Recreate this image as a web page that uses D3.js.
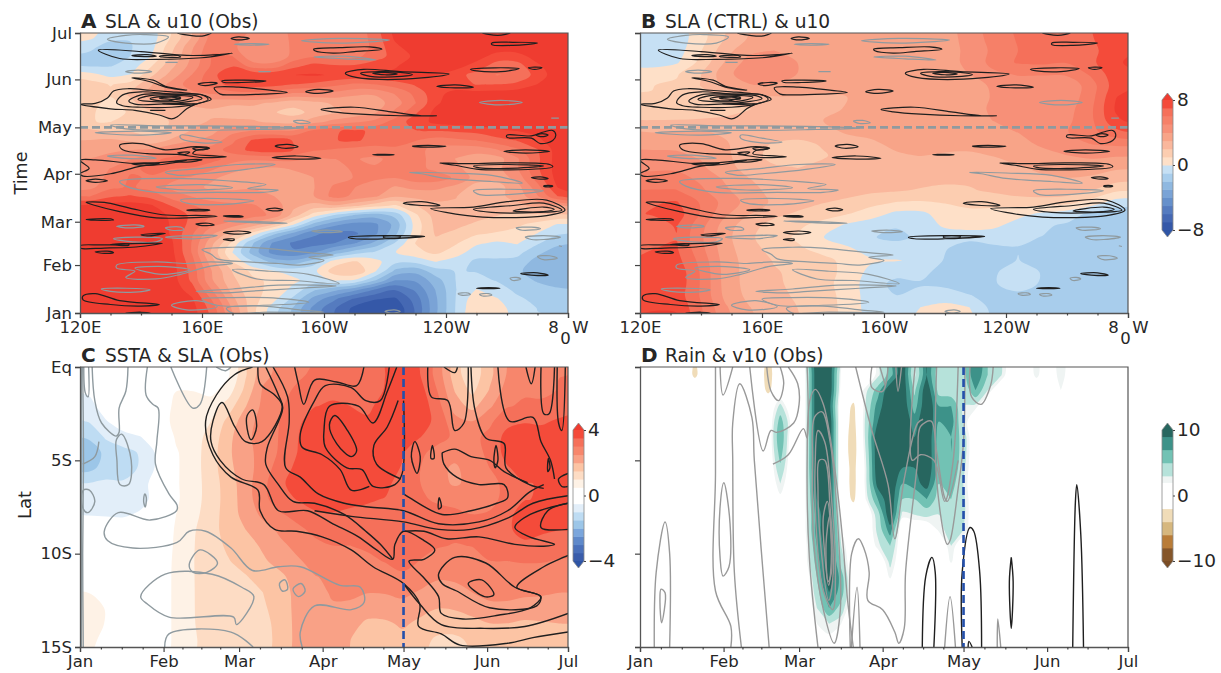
<!DOCTYPE html>
<html lang="en">
<head>
<meta charset="utf-8">
<title>SLA, SSTA, rain and wind</title>
<script src="https://d3js.org/d3.v7.min.js"></script>
<style>
body { margin: 0; background: #fff; }
text { font-family: "DejaVu Sans", sans-serif; fill: #262626; }
</style>
</head>
<body>
<div id="chart"></div>
<script>
// SLA obs (cm), rows from Jul down to Jan, columns from 120E to 80W
var slaObs = [
[1,-1,-1,-1,1,2,7,5,5,5,5,5,5,5,6,9,9,9,9,9,9,9,9,9],
[-1,-2,-1,-1,2,4,7,5,3,4,6,5,5,5,6,8,9,9,9,9,9,9,9,9],
[-1,-2,-1,-1,2,4,7,7,3,3,5,6,5,5,6,7,8,9,9,9,7,7,9,9],
[-2,-1,-1,1,3,4,6,8,4,4,7,8,7,7,8,8,8,9,9,8,6,6,8,9],
[1,-1,-1,2,3,5,7,9,9,9,9,9,9,9,9,9,9,8,7,6,5,5,7,9],
[2,1,1,3,5,6,7,8,8,8,7,7,6,5,6,6,7,8,7,6,7,7,8,9],
[2,1,3,4,5,5,5,6,6,6,5,5,5,4,3,5,6,8,9,9,9,9,9,9],
[2,-1,2,3,3,3,3,2,3,2,1,2,3,3,3,4,5,8,9,9,9,9,9,9],
[2,-1,1,2,2,2,3,2,2,2,1,2,2,3,3,5,7,9,9,9,9,9,9,9],
[0,1,2,1,2,3,3,3,3,2,1,3,4,4,5,7,8,9,9,9,9,9,9,9],
[3,1,2,1,2,3,4,5,5,5,5,8,8,9,7,7,7,7,7,7,8,8,8,9],
[3,4,3,1,3,4,3,6,8,9,7,7,7,8,7,7,6,5,6,6,7,7,8,9],
[3,4,4,4,5,6,5,7,9,9,8,6,6,5,5,6,5,4,4,4,5,6,6,9],
[4,4,5,6,7,8,8,5,4,5,5,4,5,5,4,5,7,4,4,3,2,4,7,9],
[5,5,6,7,6,6,5,4,4,3,4,5,4,6,5,5,5,4,4,3,4,5,7,9],
[4,5,7,6,5,5,4,3,3,4,3,4,4,5,6,5,7,7,6,4,3,4,7,9],
[4,6,6,5,4,4,3,4,4,3,4,3,6,5,4,3,4,4,4,1,2,3,5,9],
[5,7,7,7,5,5,4,4,5,4,3,4,8,5,6,3,4,3,3,2,3,3,5,9],
[9,9,9,9,7,6,6,5,5,5,3,2,4,3,2,0,2,3,3,3,3,3,3,3],
[9,9,9,9,8,7,6,7,6,7,3,1,-2,-3,-4,-3,1,3,3,2,2,1,2,2],
[9,9,9,9,8,7,5,5,4,3,1,-3,-4,-5,-5,-4,1,3,2,2,2,1,1,-1],
[9,9,9,9,8,6,4,2,1,-3,-4,-6,-6,-6,-5,-3,1,3,2,1,1,1,0,-1],
[9,9,9,9,9,6,3,1,-3,-5,-6,-6,-6,-5,-3,-1,2,2,1,0,-1,1,-1,-2],
[9,9,9,9,9,6,2,-1,-3,-6,-6,-5,-3,-1,-1,1,1,2,1,-1,-1,0,-2,-3],
[9,9,9,9,9,7,3,1,-1,-3,-3,-1,2,2,1,-1,-1,1,-1,-2,-1,-1,-3,-3],
[9,9,9,9,9,7,4,2,1,1,0,-1,3,4,1,-3,-4,-1,-1,-1,-1,-2,-3,-3],
[9,9,9,9,9,7,3,2,1,1,1,-1,1,1,-1,-5,-4,-3,0,-1,-1,-2,-2,-2],
[9,9,9,9,9,8,5,2,1,1,0,-2,-3,-4,-6,-7,-5,-3,-1,1,-1,-1,-2,-2],
[9,9,9,9,9,9,6,3,1,1,-1,-4,-5,-7,-7,-8,-6,-3,-1,2,0,-1,-1,-2],
[9,9,9,9,9,9,7,4,1,-1,-2,-5,-6,-8,-8,-9,-6,-3,-1,2,1,-1,-1,-1]
];

// SLA control run, same orientation
var slaCtrl = [
[-1,-1,.5,2,3,4,3.5,3,4,4,4,3.5,3.5,4,6,6,7,6,7,8],
[-1,-1,1,3,4,4,3.5,3,3.5,3.5,3.5,3.5,3.5,4,5,6,6,6,6,8],
[-1,-1,1,3,5,5,4,3.5,3.5,3,3.5,3.5,3.5,4,6,7,7,6,7,8.5],
[1,1,2,4,6,5,4,3.5,3,3,3,3,3.5,4,5,5,5,5,6,8],
[1,1,2,4,4,4,3.5,3,3,3,3,3,3,3.5,4,4,4,3,5,8],
[1,1,1.5,2,2.5,3,3,3,3,3,3,3,3,3.5,4,5,4,4,5,9],
[1,1,1,1.5,1.5,2,2,2.5,3,3,3.5,3,3,3.5,4,6,5,4,5.5,9],
[2,2,2,2,2,3,3,3,4,3.5,3.5,3.5,3.5,4,4,4,4.5,4.5,5,9],
[3,3,3.5,3,3,3,3,3,3,3,3,3,3.5,3.5,4,4,4.5,5,6,7],
[4,4,4,3,2.5,1.5,1,2,3,3,3,4,3,3,3,3.5,4.5,5,5,5],
[4,4,4,3.5,2,1.5,.5,1.5,2.5,2.5,3,3,3,3,3,3,3.5,4,4.5,4],
[5,5,4,3,2.5,2,2,2.5,3,3,3,2.5,2.5,2.5,3,3,3,3,3.5,3],
[5,6,5,4,3,2.5,2.5,2.5,2.5,2.5,2.5,2.5,2,2,2.5,2.5,3,3,3,2.5],
[6,6,5,4,3,2.5,2.5,2.5,2.5,2.5,2.5,2,2,2,2.5,3,3,3,2.5,1],
[7,8,6,5,4,3,2.5,2,2,1,1,1,1,1,1,1.5,2,2,1,-1],
[7,9,6,4,3,2,2,1.5,1.5,1,-1,-1,.5,1,.5,.5,-1,-1,-2,-2],
[6,8,5,3,2,1.5,1,1,-1,-1,-1,-1,1,1,1,-1,-1,-1,-2,-2],
[6,8,5,3,2,1,1,-1,-1,-1,-2,-1,-1,-1,-1,-1,-1,-1,-2,-2],
[7,8,5,3,2.5,1.5,1,1,.5,-1,-1,.5,-1,-2,-1,-1,-1,-1,-2,-2],
[7,8,6,3,2.5,2,1.5,1.5,1,.5,1,.5,-1,-3,-1,-1,-2,-1,-2,-1],
[7,9,6,3,2.5,2,2,1.5,1,-1,-1,-1,-1,-3,-1,.5,-1,-2,-2,-1],
[7,9,6,3,2.5,2,2,1,1,-1,-2,-1,-1,-2,-1,.5,-1,-2,-2,-2],
[7,8,6,3,2.5,2,2,1.5,1,-1,-1,-1,-1,-1,-2,-1,-2,-2,-2,-2],
[8,9,6,4,3,2.5,2,1.5,1,-1,-1,.5,1,1,-2,-2,-2,-2,-2,-2]
];

// SSTA, rows from Eq to 15S, columns Jan to Jul
var ssta = [
[0,0,0,0,0,.5,0,0,0,1.5,2.5,2.5,3,3,3,3,3,3.5,4,3.5,3,1.5,.5,2,2.5,3,3,3],
[-.5,0,.6,0,0,.7,.6,0,.5,1.5,3,3,3,3.5,3.5,3.5,3,3.5,4,4,3,2,.7,2,3,3,2.5,3],
[-1,0,.6,0,0,.7,1,.6,1.2,2,2.7,3,3,3.5,3.5,3.5,3.5,3.5,4,4,3.5,2,1.2,2.5,3,3,3,3.5],
[-1,-.6,0,0,0,1,1,.7,1.8,2.5,2.7,3,3.5,4,4,3.5,3.5,3.5,4,4,3.5,2.5,2.5,3,3.5,3.5,3.5,3.5],
[-1.5,-.7,-.7,-.6,0,.7,.7,1,2,2.5,2.7,3,3.5,4,4,4,3.5,3.5,4,3.5,3.5,3,3,3,4,4,3.5,4],
[-2.5,-1.2,-1.3,-1.3,-.7,.7,.7,1.2,2,2.5,2.5,3,3.5,4,4,3.5,3.5,4,3.5,3,2.5,2.5,2.7,3,4,4,3.5,4],
[-2,-1.2,-1.7,-1,-.6,.7,.7,1.2,2,2.3,2.5,3.5,3.5,4,4,3.5,3.5,4,3.5,3,2.5,2.2,2.7,3,3.5,4,3.5,3.5],
[-.7,-.7,-.7,-.6,-.2,.6,.7,1.2,1.7,2.2,3,3.5,4,4,4,4,3.5,3.5,3.5,3,2.5,2.2,2.5,2.7,3,3.5,3.5,3.5],
[-.8,-.7,-1.5,-.8,-.6,.6,.7,1.2,1.7,2.2,3,3.5,3.5,4,3.5,3.5,3.5,3.5,3.5,3,2.7,2.7,2.7,2.7,3,3.5,3.5,3.5],
[-.6,-.7,-.6,-.5,0,.6,.8,1.2,1.8,2.2,2.7,3,3,3.5,3.5,3.5,3.5,3.5,3.5,3.5,3.5,3.5,3,3,3.5,4,3.5,4],
[0,0,0,0,0,.6,1,1.3,1.8,2,2.2,2.5,3,3,3.5,3,3.5,3,3.5,3.5,3.5,3,3,3,3.5,4,3.5,3.5],
[0,.5,0,0,0,.6,1,1.3,1.6,1.7,2,2.5,2.5,3,3,3,3,3,3.5,3,3,3,3,3.5,3,3.5,3.5,3],
[0,.5,0,0,0,.7,1,1.3,1.5,1.7,2,2.2,2.5,2.7,2.7,2.7,3,3,3.5,3,2.7,2.7,2.7,3,3,3,3,3],
[0,.5,0,0,0,.7,1,1.3,1.2,1.5,1.7,1.7,2.2,2.5,2.5,2.7,2.7,2.7,3,2.7,2.5,2.5,2.7,3,2.7,2.7,2.7,2.7],
[.6,.6,0,0,0,.7,1,1.3,1.2,1,1.5,1.7,2.2,2.5,2.5,2.7,2.5,2.5,2.7,2.5,2.2,2.5,2.5,2.7,2.7,2.7,2.7,2.5],
[.7,.6,0,0,0,.7,1,1.3,1.2,1,1.5,1.7,2.2,2.5,2.5,2.5,2.2,2.2,2.5,2,2,2,2.2,2.5,2.5,2.2,2.2,2.2],
[.7,.6,0,0,0,.7,1,1.3,1.2,1,1.2,1.7,2.2,2.5,2.5,2.2,1.7,1.8,2.2,2,1.6,1.6,1.8,2,2,1.8,2,2],
[.5,.6,0,0,0,.7,1,1.2,1,.9,1.2,1.7,2.2,2.5,2.3,2,1.5,1.6,2,1.5,1.3,1.3,1.5,1.7,1.6,1.6,1.6,1.8]
];

// rain anomaly read column by column: the 40 time columns that are not dry,
// each with values for 18 rows from Eq to 15S; every other column is zero
var rainCols = 40, rainRows = 18;
var rainColumnIndex = [4,10,11,12,13,14,15,16,17,18,19,20,21,22,23,24,25,26,27,28,29,32,34];
var rainColumns = [
[-2.5,0,0,0,0,0,0,0,0,0,0,0,0,0,0,0,0,0],
[-3,-2.5,0,0,0,0,0,0,0,0,0,0,0,0,0,0,0,0],
[0,0,3.5,6,7,6,4.5,3,1.5,0,0,0,0,0,0,0,0,0],
[0,0,0,1,0,0,0,0,0,0,0,0,0,0,0,0,0,0],
[1.5,1.5,1.5,1.5,1.5,1.5,1.5,1.5,1.5,1.5,1.5,1,1,0,0,0,0,0],
[11,11,11,11,11,11,11,10,9,8,8,7,6,5,4,3,2,1],
[11,11,10,11,11,11,11,11,11,11,11,11,11,11,9,7,3,1.5],
[1.5,1,0,0,0,0,0,0,0,1,2,3,4,6,6,4,2,1],
[0,0,-2.5,-3,-3.5,-3.5,-3,-3,-2.5,0,0,0,0,0,0,0,0,0],
[0,2.5,3,3.5,3.5,3,2.5,2.5,2,0,0,0,0,0,0,0,0,0],
[2.5,6,8,9,11,11,11,10,7,4,3.5,2.5,0,0,0,0,0,0],
[6,11,11,11,11,11,11,11,11,11,8,5,3.5,2.2,0,0,0,0],
[11,11,11,11,11,11,9,7,5,2.5,0,0,0,0,0,0,0,0],
[2.5,4.5,6,8,9,9,9,8,5,3,0,0,0,0,0,0,0,0],
[9,11,11,11,11,11,11,10,7,3.5,0,0,0,0,0,0,0,0],
[3.5,4,7,7,6,6,6,5,4,3,2.2,0,0,0,0,0,0,0],
[4,3.5,7,8,7,7,7,6,5,4,4,3,2.2,0,0,0,0,0],
[4,3,3,3,4,4,3.5,3,3.5,3.5,3,0,0,0,0,0,0,0],
[9,7,2.5,0,0,0,0,0,0,0,0,0,0,0,0,0,0,0],
[5,3,0,0,0,0,0,0,0,0,0,0,0,0,0,0,0,0],
[3.5,0,0,0,0,0,0,0,0,0,0,0,0,0,0,0,0,0],
[2.5,0,0,0,0,0,0,0,0,0,0,0,0,0,0,0,0,0],
[3,2,0,0,0,0,0,0,0,0,0,0,0,0,0,0,0,0]
];
var rain = d3.range(rainRows).map(function(r) {
    return d3.range(rainCols).map(function(c) {
        var k = rainColumnIndex.indexOf(c);
        return k < 0 ? 0 : rainColumns[k][r];
    });
});

// u10 contours as [lon, day] loops, positive and negative
var u10Pos = [
[[152,181],[156,179.5],[160,179],[163,181]],
[[169.5,177.5],[172,178.5],[175.5,177.5],[172,176.5]],
[[126,170],[140,169],[155,166.5],[165,167],[170,168],[160,165],[145,164],[133,164.5]],
[[137,166.5],[142,167],[145,166],[141,165.7]],
[[146,166],[152,166.5],[153,165.5],[147,165.5]],
[[196.6,170.5],[205,171.5],[215,172],[219,170.5],[210,169],[203,168],[197,169.5]],
[[255,174.5],[262,175],[270,174.5],[262,173],[255,173.5]],
[[252,181],[257,179.5],[261,181]],
[[248,157.5],[256,158.5],[264,158],[258,156],[250,156.5]],
[[267,158.5],[269,159],[271.5,158.5],[269,157.5]],
[[207,155],[213,157.5],[225,156],[241,154.5],[232,152],[218,151],[209,153]],
[[212,155],[218,156],[225,155.5],[229,154],[220,152.5],[214,153.5]],
[[216,155],[220,155.5],[224,154.5],[220,154]],
[[166.5,150],[173,150.5],[181,150],[173,149],[167,149.2]],
[[158.7,148],[162,149],[165,148.5],[161,147]],
[[164,145.5],[172,146],[180,144.5],[188,142.5],[180,141.5],[170,141],[166,141.5]],
[[194,143],[198,144.5],[203,143.5],[198,142]],
[[237,146.5],[243,147.5],[249,146],[243,145.5]],
[[137,152],[144,150.5],[148,146.5],[155,144],[148,146],[143,149.5]],
[[120,135],[125,135.5],[129,139],[131,143.5],[136,145],[143,144],[150,143],[156,142],[161,140.5],[163,138],[158,135],[155,132],[152,127],[150,125.5],[146,128],[138,131],[130,132]],
[[132,136],[134,141],[140,143],[150,141.5],[160,141],[162,138],[158,135],[150,133],[140,133],[134,134]],
[[136,137],[140,141],[148,141.5],[158,140.5],[160,138.5],[155,136.5],[146,135],[138,135]],
[[139,138],[143,140.5],[150,140.8],[157,139.5],[154,137.5],[146,136.5]],
[[143,138.5],[147,140],[153,139.5],[150,137.5],[145,137.5]],
[[146,139],[150,139.5],[153,138.5],[149,138.2]],
[[147,135.3],[158,135.3],[152,134.8]],
[[143,131],[148,131]],
[[199,131.5],[210,133],[222,130],[232,127.5],[237,127.5],[225,127.5],[212,128.5],[203,130]],
[[260,115],[268,114.5],[272,117],[275,118],[276,115],[275,111.5],[271,109.5],[268,113],[260,113.5]],
[[269.5,115],[271.5,116],[273.5,115],[271.5,114]],
[[133,108.5],[140,109.5],[148,105.5],[158,107.5],[162.5,106.5],[158,105],[157,103],[165,101.5],[168,101],[160,100.5],[152,102.5],[142,103],[134,105.5]],
[[152,103.5],[156,104],[154.5,102.5]],
[[157,106.5],[160,107],[162,106],[158,105.5]],
[[184,108],[188,109],[191.5,107.5],[187,106.5]],
[[229,107.8],[234,108.3],[240,107.8],[234,107.2]],
[[183,100.5],[191,101.5],[199,100],[191,99.5]],
[[216,102.3],[220,102.6],[223,102.3],[220,102]],
[[259,104.5],[266,105.5],[274,104.5],[266,103.3]],
[[238,97],[246,96.5],[260,97],[274,96],[275,94.5],[260,92.5],[250,93],[243,95.5]],
[[249,95],[258,96],[272,95],[260,93.5],[251,93.8]],
[[120,98.7],[125,99],[140,96.5],[155,98.7],[147,96],[140,95],[130,90],[121,88.5],[120,90],[123,93.5]],
[[137,96.5],[141,97],[146,96.5],[141,95.5]],
[[151,98],[155,99],[160,99],[155,97.5]],
[[122,85.5],[125,86.5],[129,85.5],[125,84.5]],
[[268,87.5],[271,88],[273.5,87],[271,86.5]],
[[272,82],[273.5,82.5],[275,82],[273.5,81.5]],
[[122,71.5],[128,71.5],[136,68],[147,63.5],[160,63],[165,62.5],[155,61.5],[145,61.5],[133,65.5],[125,69.5]],
[[155,66.5],[159,67],[162.6,66.5],[159,66]],
[[167,62.7],[172,62.9],[173.5,62.3],[169,62.2]],
[[181,67],[184,67.8],[186.5,66.7],[184,66]],
[[158,57.5],[162,58],[164,57],[160,56.5]],
[[122,60.5],[130,60.8],[131,60],[125,60]],
[[140,50.5],[146,51.5],[148,51.5],[142,49.8]],
[[167,52],[172,53],[176,52],[172,51]],
[[167,47.5],[170.5,47.8],[170.5,47]],
[[208,49],[220,50],[233,49.5],[220,48],[210,48]],
[[219.5,49.5],[225,49.5],[225,48.9],[219.5,48.9]],
[[226,71],[232,72],[238,69.5],[232,69.5]],
[[235,67.5],[249,68.5],[260,72],[273,73],[279,66.5],[273,63],[252,62],[240,65]],
[[249,67],[262,69.5],[272,71],[278,66.5],[270,65],[255,65]],
[[262,66],[272,68.5],[275.5,67],[272,65.5],[264,65.5]],
[[120,43.5],[128,44],[140,45],[147,45],[137,42.5],[128,42],[120,42]],
[[125,39.5],[129,40],[131,39],[128,38.5]],
[[130,44.2],[136,44.5],[136,43.8]],
[[264.5,25.5],[270,26],[273.5,24.5],[268,24.5]],
[[250,16],[254,16.4],[257.7,16],[254,15.7]],
[[121,11],[125,12.5],[133,8],[146,5.5],[140,4.5],[130,5.5],[121,8.5]],
[[135,0],[140,.5],[143,0]]
];
var u10Neg = [
[[129,177],[135,179.5],[141,180],[149,178.5],[145,174.5],[135,174.5]],
[[170.6,173.7],[176,174.2],[182,173.7],[176,173.2]],
[[192.6,176],[205,177.5],[221.5,176.5],[205,174.5]],
[[196.6,165.5],[207,166],[217,163.5],[207,164.3]],
[[148,162],[152,162]],
[[135,156],[139,157],[143.5,156],[139,155]],
[[178.5,156],[182.5,156]],
[[251,136],[258,137.5],[265,136],[258,134.5]],
[[274.5,126],[277,126]],
[[190,124],[193,124.5],[195.5,123],[192,122.5]],
[[130,121.5],[145,121],[160,121],[180,120.5],[192,119.5],[175,118.5],[155,118],[135,119]],
[[125,116.5],[140,117.5],[150,116.5],[140,115]],
[[153,115],[160,113],[166.6,110.5],[160,110],[153,113]],
[[129,101.5],[137,102],[145,100],[135,100]],
[[148,91],[160,93.5],[172,96],[184,96],[175,93],[160,90],[152,89]],
[[133,85],[150,87],[168,85.5],[181,83],[175,80.5],[185,79.5],[180,78],[165,78],[145,78],[135,82]],
[[145,81.5],[160,83],[170,81],[155,79.5]],
[[153,73],[165,74],[177,72.5],[165,70],[155,71]],
[[167,59.5],[180,59],[188,58],[178,58.3]],
[[132,56],[138,57],[141,56],[136,55]],
[[148,55],[153,55.5],[154,54],[150,53.5]],
[[196,53],[202,53.5],[206,52.5],[200,52]],
[[131,48],[138,49],[147,48],[145,46],[135,46.5]],
[[148,49],[155,50],[165,50],[158,48]],
[[160,41],[170,42.5],[180,42],[195,39],[203,37.5],[195,36],[200,34],[192,31],[185,32],[175,33],[165,35],[163,38]],
[[132,31],[145,33],[155,32],[163,33],[170,32],[162,30],[153,25],[145,22],[135,23],[138,27],[132,29]],
[[138,29],[148,30],[156,28],[147,25]],
[[127,15.5],[135,16],[143,15],[138,13.5],[130,14]],
[[158,14],[170,15.5],[185,18],[204,17.5],[192,16],[175,14],[168,13]],
[[170,28],[182,27],[195,25],[205,19],[190,21],[178,22]],
[[160,9],[170,10],[185,9.5],[195,7],[180,5],[165,5]],
[[168,3],[180,4.5],[192,2],[200,.5],[180,.5],[170,0]],
[[150,5],[158,8],[165,4],[155,2]],
[[228,91],[240,90.5],[255,89],[265,84],[255,85],[240,87],[232,90]],
[[249,79],[260,80],[272,79],[260,76.5],[251,76.5]],
[[263,55],[268,55.5],[271,54.5],[265,53.5]],
[[266,49],[272,50],[277.5,49],[272,47.5],[268,47.5]],
[[277,43.5],[278,43]],
[[270,36.5],[274,37],[276.5,35.5],[272,34.5]],
[[261,22.5],[263,23],[264.5,22],[262,21]],
[[244,12.5],[247,13],[248,12],[245,11.5]],
[[251,12],[254,12.5],[255,11.5],[252,11]],
[[220,1],[223,2],[225,1],[222,0]]
];

// SLA contours over SSTA as [day, lat south]
var slaPos = [
[[64,0],[57.4,.4],[50.6,1.5],[46.6,2.9],[49.3,4.7],[56,5.9],[66,6.6],[66.8,7.7],[72.2,8.7],[80.3,8.8],[89.8,9.1],[100.6,9.8],[108.7,10.7],[120,11.6],[126,12.7],[125.6,13.9],[134,14.3],[141,14.9],[158.6,14.8],[168,14.5],[181,14.2]],
[[66,0],[66.8,.9],[72.2,1.5],[75,2.1],[67.5,4],[61.4,4],[57.4,3.2],[52.7,1.9],[49.3,2.9],[48.6,4],[52,5],[60,6],[68.2,6.3],[73.6,7.7],[84.4,7.7],[93.8,8.4],[103.3,9.1],[110,9.8],[116,10.3],[116.8,9.5],[120,8.8],[127.6,9.3],[131.6,9.8],[127.6,10.3],[122,10.4],[127.6,11.3],[133,12.3],[134,13.2],[142,13.5],[155,13.3],[167,12.9],[171,12.3],[162,11.8],[172,10.7],[181,10.1]],
[[120,11.6],[126,12.7],[134,13.8],[150,14],[165,13.9],[181,13.2]],
[[68.9,0],[73.6,1.5],[75.2,2.2],[69.5,4.3],[68.9,5.2],[73.6,6.3],[79,7.2],[87,7.3],[98,7.9],[106,8.8],[111.4,9.5],[116,10.3]],
[[71.6,0],[77,1.6],[77.6,2.9],[76.3,5.4],[81.7,5.9],[88.4,6.8],[98,7.3],[107,7.5],[120,7.7],[133,8.4],[148,8.3],[158.6,7.7],[166.7,6.7],[172,6.3]],
[[87,7.7],[100.6,8],[120,8.3],[133,8.7],[145,8.7],[158.6,8.1],[168,7.3],[181,6.9]],
[[120,8.8],[127.6,8.8],[136,9.2],[148,9.1],[161.3,9.5],[172,9.6],[176,9.5],[166.7,9.1],[161.3,8.6],[167,7.9],[181,7.3]],
[[79.6,0],[81,.9],[83,2],[87,.7],[95.2,.8],[102.6,1],[105.3,0]],
[[117.5,0],[114,1.3],[108.7,3],[103.3,2.1],[92.5,2.1],[90.5,3.4],[91,4.3],[99,5.4],[104.6,5.5],[108.7,6.4],[116.8,6.3],[119.5,5.7],[120,1.8]],
[[114.7,0],[111.4,1.8],[106,1.8],[100.6,1.1],[91,1],[87,1.8],[81.7,3.6],[82.4,4.3],[89.8,4.7],[96.5,5.5],[100.6,6.6],[107.3,6.4]],
[[119,6],[110,5.2],[109,4.2],[114,3.2],[118,1.8]],
[[134.3,4.6],[135,5.2],[139.7,5.9],[148,6.3],[157.3,6.3],[158.6,7],[154.6,7.3],[145,7.7],[134.3,7.9],[122.2,7],[120,6.8]],
[[134.3,4.6],[139,4.4],[145,4.8],[152,5],[157.3,5.6],[166,6.2]],
[[129,0],[130.3,1.6],[136.4,1.8],[139,3.4],[142.4,3],[144,0]],
[[145,0],[146.5,2.3],[150.5,3.8],[157.3,4.1],[158,5.4],[166.7,6.3],[172,6.5]],
[[155,0],[159.3,2.9],[168,2.7],[171,4],[174.5,5],[176,6]],
[[171,0],[172,2.5],[174,2.5],[176,0]],
[[165.4,0],[167.4,.9],[168.8,0]],
[[135,0],[139,.3],[140,0]],
[[177,0],[177.5,3],[178.7,3.4],[180,0]],
[[181,5.7],[177.5,6],[178.7,6.4],[181,6.4]],
[[181,7.3],[173.5,7.7],[171,8.6],[181,8.7]]
];
var slaLoops = [
[[62,2.6],[64,2.3],[65.5,3.2],[63.5,3.9],[62,3.3]],
[[92.5,3.1],[94.5,2.6],[99.2,3.4],[102.6,4.5],[100.6,4.8],[95.2,4.1]],
[[124.2,4],[126.2,4.8],[125,5.7],[122.9,4.8]],
[[130.7,4.2],[131.3,4.9],[130.2,4.9]],
[[154.3,4.2],[155,5],[154,5.4],[153.5,5]],
[[173.7,4.9],[174.3,5.4],[173.5,5.6]],
[[133.2,7],[134,7.5],[133,7.6]],
[[133,11.1],[139,10.2],[150.5,10.5],[161.3,11.8],[170.8,12.3],[169.4,12.8],[151.9,12.9],[139.7,12],[134.3,11.6]],
[[144,11.6],[149,11.4],[153.5,12.2],[150,12.3]]
];
var sstaNeg = [
[[.5,0],[.5,15]],
[[1,0],[1.3,5],[1,10],[1.2,15]],
[[1.4,0],[2,1.4],[3,1.6],[3.2,0]],
[[4.5,0],[5.5,1.8],[8,3],[13.5,3.7],[14.5,3.5],[14.5,2.2],[17,1.3],[17.8,0]],
[[25,0],[24.5,1.5],[27,2],[29,2.2],[28.5,4],[28,5.2],[33,6.8],[36,7.4],[35.8,7.7],[26,8.2],[14.2,7.8],[9,8.8],[10.2,9.3],[19.6,9.7],[36,9.4],[40.5,8.8],[46.6,8.8],[56,9.7],[64,10.9],[73.6,10.7],[81.7,10.7],[96.5,11.7],[104,11.8],[105.4,12.6],[100.6,13],[87,12.8],[81.7,14.2],[82.4,15]],
[[33.7,0],[41.8,2.2],[44.5,2],[47,0]],
[[1,5.2],[5.5,4.8],[7,4]],
[[31.4,15],[33,14.3],[56,14.2],[64.2,15]],
[[50.5,0],[54,.2],[56,0]]
];
var sstaLoops = [
[[13.5,3.9],[15.5,3.6],[19,5],[18,6.3],[14.8,6.3],[13.7,5]],
[[1.2,6.6],[3.5,6.6],[5.5,7.2],[3,7.8],[1.2,7.6]],
[[24,6.8],[24.6,7],[24.2,7.5],[23.6,7.2]],
[[40.5,10.6],[44.5,9.8],[51,10.5],[47,11],[42,11]],
[[22.5,12.3],[31.6,11.1],[49,11.1],[60,11.8],[64.5,12.3],[58,13.8],[57,13.4],[33,13.4],[25,12.7]],
[[74,11.6],[76,11.4],[77,11.9],[75,12]],
[[79,11.9],[82,11.6],[83.5,12],[81,12.3]]
];

// v10 contours over rain as [day, lat south]
var v10Neg = [
[[5.3,15],[6,11],[9.3,8.3],[11,10],[11,15]],
[[28,0],[28,5.7],[28,12],[33.7,13.9],[33.7,15]],
[[29.7,0],[30.8,1.5],[34.4,0]],
[[37.6,15],[35,11],[34.4,5],[34.4,3],[37,.9],[41.5,2.7],[42.4,5],[47.9,15]],
[[40.7,0],[45.7,4.5],[48.6,3.4],[50.7,3.5],[57,3],[59,2],[58.5,.9],[55,0]],
[[47,0],[48.6,1.3],[51.4,1.8],[53.3,.9],[52,0]],
[[49.3,5.2],[55,4.7],[60.6,3.3],[62,3.8],[62,0]],
[[66,15],[62.8,10.2],[62,5],[63,1.8],[65,1.2],[68,2],[72,5.2],[75,9],[77,12.5],[79.1,15]],
[[78,15],[78.5,10],[81,9.2],[83,9.7],[85,11],[84.5,12.5],[90,13],[94.5,14.2],[96,14.8],[98,14],[98.5,11],[103,5],[104,3.2],[108,2.9],[110,4.5],[113,7],[114,7.2],[118,5]],
[[80,0],[86,3.4],[92,6.3],[94.5,9.2],[98,6],[103,3],[105,2.8]],
[[86,0],[86,1.1],[90,1.3],[92,0]],
[[89,0],[91,1]],
[[94.9,0],[95.7,1.3],[97,0]],
[[102,0],[101,5],[104,4.7],[109,5],[113,7.2],[116,5.2],[118,0]],
[[110,0],[110,6],[114,9.5],[115,9.3],[118,6.5],[120,4],[120.5,0]],
[[78.4,15],[80.5,11.8],[81.6,15]],
[[113,15],[115,12.3],[117,15]],
[[132.5,15],[132.7,13.5],[133.8,15]],
[[122.4,0],[123,1.6],[126.5,2],[130,1],[131,0]]
];
var v10NegLoops = [
[[7.8,11.9],[9.3,12.1],[8,13.7],[7.4,12.6]],
[[31.1,6.2],[33.4,8.4],[33,10.7],[30.8,11.2],[29.7,10.2],[29.7,7.5]],
[[64,5],[64.5,9.5],[68,13],[72,14.8],[74.3,13],[73.6,9],[70.5,4],[67.5,2.4],[64.7,2.7]],
[[65,5],[65.5,9],[68,12],[71.5,13],[72.5,11],[71,7],[68.5,4],[66,3.4]],
[[66,6.5],[67,9.5],[70,12.5],[71.7,11],[70.5,7.5],[68.5,5],[66.5,5]],
[[68,8],[68.5,10],[70,11.7],[71,10],[69.5,7.2]],
[[69,9.5],[69.8,11.5],[71,11],[70.3,8]]
];
var v10Pos = [
[[104.7,15],[106,11.2],[108.3,10.2],[109.5,11],[109,15]],
[[119.5,15],[119.5,11],[122.4,8.6],[123.8,8.8],[126,11],[126.7,15]],
[[137.7,10.2],[137,11.5],[137.7,14],[138.4,11.5],[137.7,10.2]],
[[160.5,15],[161.5,7.2],[162,6.3],[163.5,9],[164.5,15]],
[[121.7,15],[122,14.7],[123.2,15]]
];

// contour levels and their colours (colour i is the band above level i, colorsX[0] is below the lowest)
var slaLevels = [-8,-7,-6,-5,-4,-3,-2,-1,0,1,2,3,4,5,6,7,8];
var slaColors = ["#2f55a5","#3558a8","#4568b3","#557bbf","#6690cb","#7aa3d6","#8fb8e0","#a8cdec","#c6e0f4","#fee0c8","#fccdb0","#fab79c","#f8a488","#f79078","#f68068","#f5705a","#f44b3a","#ef3c30"];
var sstaLevels = [-4,-3.5,-3,-2.5,-2,-1.5,-1,-.5,.5,1,1.5,2,2.5,3,3.5,4];
var sstaColors = ["#2f55a5","#3a5dab","#4a70ba","#5f89ca","#7ba6dc","#9cc6e8","#bedcf3","#e2eef9","#ffffff","#fef2e6","#fddcc4","#fcc4a4","#f9a186","#f7866c","#f5705a","#f44b3a","#ef3c30"];
var rainLevels = [-10,-8,-6,-4,-2,2,3,5,7,9];
var rainColors = ["#7a4d25","#85562a","#b97c38","#d6b77e","#f0dcb8","#ffffff","#eff4f3","#b6e2da","#72c2b4","#3d9289","#27665f"];

var timeTicks = [0,31,59,90,120,151,181];
var timeLabels = ["Jan","Feb","Mar","Apr","May","Jun","Jul"];
var lonTicks = [120,160,200,240,280];
var lonLabels = ["120E","160E","160W","120W","80W"];
var latTicks = [0,5,10,15];
var latLabels = ["Eq","5S","10S","15S"];
var mayDay = 120;

var black = "#1f1f1f", grey = "#8f9a9f";

//layout
var w = 1221, h = 673;
var svg = d3.select("#chart").append("svg").attr("width", w).attr("height", h).style("display", "block");
var defs = svg.append("defs");

var top1 = 33, bot1 = 313, top2 = 367, bot2 = 647;
var xLeft = [80, 568], xRight = [640, 1128];

var smooth = d3.line().curve(d3.curveCatmullRomClosed.alpha(0.5));
var open = d3.line().curve(d3.curveCatmullRom.alpha(0.5));

function minorTicks(list, n) {
    var out = [];
    for (var i = 0; i < list.length - 1; i++) {
        for (var k = 1; k < n; k++) out.push(list[i] + (list[i+1] - list[i]) * k / n);
    }
    return out;
}

function clipFor(id, x, y) {
    defs.append("clipPath").attr("id", id).append("rect")
        .attr("x", x[0]).attr("y", y[0])
        .attr("width", x[1] - x[0]).attr("height", y[1] - y[0]);
}

// filled contours of one grid, painted from the lowest level up.
// the grid is padded by its own edge so contour corners fall outside the clip
function drawField(g, field, x, y, levels, colors, blurR) {
    var rows = field.length, cols = field[0].length;
    var gx = d3.scaleLinear().domain([0, cols]).range(x.range());
    var gy = d3.scaleLinear().domain([0, rows]).range(y.range());
    g.append("rect").attr("x", gx(0)).attr("y", gy(0))
        .attr("width", gx(cols) - gx(0)).attr("height", gy(rows) - gy(0))
        .attr("fill", colors[0]);
    var vals = [];
    for (var r = -1; r <= rows; r++) {
        for (var c = -1; c <= cols; c++) {
            vals.push(field[Math.max(0, Math.min(rows - 1, r))][Math.max(0, Math.min(cols - 1, c))]);
        }
    }
    if (blurR > 0) d3.blur2({data: vals, width: cols + 2, height: rows + 2}, blurR);
    var bands = d3.contours().size([cols + 2, rows + 2]).thresholds(levels)(vals);
    g.selectAll("path.band").data(bands).enter().append("path")
        .attr("class", "band")
        .attr("fill", function(d, i) { return colors[i + 1]; })
        .attr("fill-rule", "evenodd")
        .attr("d", function(d) {
            var s = "";
            d.coordinates.forEach(function(poly) {
                poly.forEach(function(ring) {
                    var pts = ring.slice(0, -1).map(function(p) { return [gx(p[0] - 1), gy(p[1] - 1)]; });
                    s += smooth(pts);
                });
            });
            return s;
        });
}

function drawLines(g, lines, x, y, color, closed, width) {
    g.append("g").selectAll("path").data(lines).enter().append("path")
        .attr("fill", "none").attr("stroke", color).attr("stroke-width", width)
        .attr("d", function(d) {
            var pts = d.map(function(p) { return [x(p[0]), y(p[1])]; });
            return closed ? smooth(pts) : open(pts);
        });
}

function styleAxis(a) {
    a.selectAll(".domain").attr("stroke", "#555").attr("stroke-width", 1.3);
    a.selectAll(".tick line").attr("stroke", "#444").attr("stroke-width", 1.2);
    a.selectAll("text").style("font-size", "16.5px").style("fill", "#262626");
}

function panelTitle(x0, y0, letter, txt) {
    svg.append("text").attr("x", x0 + 1).attr("y", y0 - 5).attr("font-weight", "bold").style("font-size", "20px").text(letter);
    svg.append("text").attr("x", x0 + 25).attr("y", y0 - 5).style("font-size", "18.6px").text(txt);
}

// one lon / time panel
function lonPanel(id, xr, field, letter, txt, showY) {
    var x = d3.scaleLinear().domain([120, 280]).range(xr);
    var y = d3.scaleLinear().domain([0, 181]).range([bot1, top1]);
    clipFor(id, xr, [top1, bot1]);
    var g = svg.append("g").attr("clip-path", "url(#" + id + ")");
    drawField(g, field, x, d3.scaleLinear().domain([181, 0]).range([top1, bot1]), slaLevels, slaColors, .12);
    drawLines(g, u10Neg, x, y, grey, true, 1.2);
    drawLines(g, u10Pos, x, y, black, true, 1.2);
    g.append("line").attr("x1", x(120)).attr("x2", x(280)).attr("y1", y(mayDay)).attr("y2", y(mayDay))
        .attr("stroke", grey).attr("stroke-width", 2.8).attr("stroke-dasharray", "8,4");

    var ax = svg.append("g").attr("transform", "translate(0," + bot1 + ")")
        .call(d3.axisBottom(x).tickValues(lonTicks).tickSize(5).tickPadding(3)
            .tickFormat(function(d, i) { return lonLabels[i]; }));
    styleAxis(ax);
    // the last label is broken over the baseline in the original figure
    var last = ax.selectAll("text").filter(function(d) { return d === 280; }).text("");
    last.append("tspan").text("8");
    last.append("tspan").attr("dx", 1.5).attr("dy", 11).text("0");
    last.append("tspan").attr("dx", 1.5).attr("dy", -11).text("W");
    svg.append("g").attr("transform", "translate(0," + bot1 + ")")
        .call(d3.axisBottom(x).tickValues(minorTicks(lonTicks, 4)).tickSize(2.5).tickFormat(""))
        .call(styleAxis).select(".domain").remove();

    var ay = svg.append("g").attr("transform", "translate(" + xr[0] + ",0)")
        .call(d3.axisLeft(y).tickValues(timeTicks).tickSize(5).tickPadding(3)
            .tickFormat(function(d, i) { return showY ? timeLabels[i] : ""; }));
    styleAxis(ay);
    // thin frame on the other sides
    svg.append("path").attr("fill", "none").attr("stroke", "#555").attr("stroke-width", 1.2)
        .attr("d", "M" + xr[0] + "," + top1 + "H" + xr[1] + "V" + bot1);
    panelTitle(xr[0], top1, letter, txt);
}

// one time / lat panel
function latPanel(id, xr, field, levels, colors, blurR, letter, txt, showY, draw) {
    var x = d3.scaleLinear().domain([0, 181]).range(xr);
    var y = d3.scaleLinear().domain([0, 15]).range([top2, bot2]);
    clipFor(id, xr, [top2, bot2]);
    var g = svg.append("g").attr("clip-path", "url(#" + id + ")");
    drawField(g, field, x, y, levels, colors, blurR);
    draw(g, x, y);
    g.append("line").attr("x1", x(mayDay)).attr("x2", x(mayDay)).attr("y1", top2).attr("y2", bot2)
        .attr("stroke", "#2450ab").attr("stroke-width", 2.6).attr("stroke-dasharray", "8,4");

    var ax = svg.append("g").attr("transform", "translate(0," + bot2 + ")")
        .call(d3.axisBottom(x).tickValues(timeTicks).tickSize(5).tickPadding(3)
            .tickFormat(function(d, i) { return timeLabels[i]; }));
    styleAxis(ax);
    svg.append("g").attr("transform", "translate(0," + bot2 + ")")
        .call(d3.axisBottom(x).tickValues(minorTicks(timeTicks, 4)).tickSize(2.5).tickFormat(""))
        .call(styleAxis).select(".domain").remove();
    var ay = svg.append("g").attr("transform", "translate(" + xr[0] + ",0)")
        .call(d3.axisLeft(y).tickValues(latTicks).tickSize(5).tickPadding(3)
            .tickFormat(function(d, i) { return showY ? latLabels[i] : ""; }));
    styleAxis(ay);
    svg.append("path").attr("fill", "none").attr("stroke", "#555").attr("stroke-width", 1.2)
        .attr("d", "M" + xr[0] + "," + top2 + "H" + xr[1] + "V" + bot2);
    panelTitle(xr[0], top2, letter, txt);
}

// colour bar with triangular ends
function colorBar(x0, yTop, yBot, levels, colors, lo, hi, labels) {
    var bw = 11;
    var s = d3.scaleLinear().domain([lo, hi]).range([yBot, yTop]);
    var g = svg.append("g");
    levels.slice(0, -1).forEach(function(l, i) {
        g.append("rect").attr("x", x0).attr("width", bw)
            .attr("y", s(levels[i + 1])).attr("height", s(l) - s(levels[i + 1]) + .5)
            .attr("fill", colors[i + 1]);
    });
    g.append("path").attr("fill", colors[colors.length - 1])
        .attr("d", "M" + x0 + "," + yTop + "L" + (x0 + bw / 2) + "," + (yTop - 7) + "L" + (x0 + bw) + "," + yTop + "Z");
    g.append("path").attr("fill", colors[0])
        .attr("d", "M" + x0 + "," + yBot + "L" + (x0 + bw / 2) + "," + (yBot + 7) + "L" + (x0 + bw) + "," + yBot + "Z");
    g.append("path").attr("fill", "none").attr("stroke", "#888").attr("stroke-width", .8)
        .attr("d", "M" + x0 + "," + yTop + "L" + (x0 + bw / 2) + "," + (yTop - 7) + "L" + (x0 + bw) + "," + yTop
            + "V" + yBot + "L" + (x0 + bw / 2) + "," + (yBot + 7) + "L" + x0 + "," + yBot + "Z");
    var ax = svg.append("g").attr("transform", "translate(" + (x0 + bw) + ",0)")
        .call(d3.axisRight(s).tickValues([lo, 0, hi]).tickSize(2).tickPadding(2)
            .tickFormat(function(d, i) { return labels[i]; }));
    ax.select(".domain").remove();
    ax.selectAll(".tick line").attr("stroke", "#444");
    ax.selectAll("text").style("font-size", "18.5px").style("fill", "#262626");
}

lonPanel("clipA", xLeft, slaObs, "A", "SLA & u10 (Obs)", true);
lonPanel("clipB", xRight, slaCtrl, "B", "SLA (CTRL) & u10", false);

latPanel("clipC", xLeft, ssta, sstaLevels, sstaColors, .12, "C", "SSTA & SLA (Obs)", true, function(g, x, y) {
    drawLines(g, sstaNeg, x, y, grey, false, 1.4);
    drawLines(g, sstaLoops, x, y, grey, true, 1.4);
    drawLines(g, slaPos, x, y, black, false, 1.4);
    drawLines(g, slaLoops, x, y, black, true, 1.4);
});
latPanel("clipD", xRight, rain, rainLevels, rainColors, 0, "D", "Rain & v10 (Obs)", false, function(g, x, y) {
    drawLines(g, v10Neg, x, y, "#999", false, 1.4);
    drawLines(g, v10NegLoops, x, y, "#999", true, 1.4);
    drawLines(g, v10Pos, x, y, black, false, 1.4);
});

svg.append("text").attr("transform", "translate(27,173) rotate(-90)").attr("text-anchor", "middle").style("font-size", "17.5px").text("Time");
svg.append("text").attr("transform", "translate(31,505) rotate(-90)").attr("text-anchor", "middle").style("font-size", "18px").text("Lat");

colorBar(1162, 100, 230, slaLevels, slaColors, -8, 8, ["\u22128", "0", "8"]);
colorBar(573, 430, 561, sstaLevels, sstaColors, -4, 4, ["\u22124", "0", "4"]);
colorBar(1162, 430, 561, rainLevels.concat([10]), rainColors, -10, 10, ["\u221210", "0", "10"]);
</script>
</body>
</html>
